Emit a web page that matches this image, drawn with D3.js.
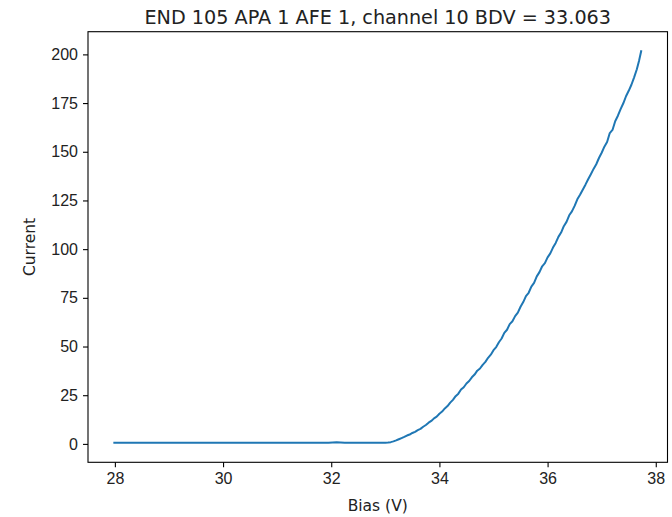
<!DOCTYPE html>
<html>
<head>
<meta charset="utf-8">
<script src="https://cdn.jsdelivr.net/npm/d3@7"></script>
<style>
  body { margin: 0; background: #fff; }
  svg { font-family: "DejaVu Sans", sans-serif; }
</style>
</head>
<body>
<div id="chart"></div>
<script>
let biasV = [
    27.99, 28.15, 28.35, 28.55, 28.75, 28.95, 29.15, 29.35, 29.55, 29.75,
    29.95, 30.15, 30.35, 30.55, 30.75, 30.95, 31.15, 31.35, 31.55, 31.75,
    31.95, 32.10, 32.25, 32.45, 32.65, 32.85,
    33.00, 33.05, 33.10, 33.15, 33.20, 33.25, 33.30, 33.35, 33.40, 33.45,
    33.50, 33.55, 33.60, 33.65, 33.70, 33.75, 33.80, 33.85, 33.90, 33.95,
    34.00, 34.05, 34.10, 34.15, 34.20, 34.25, 34.30, 34.35, 34.40, 34.45,
    34.50, 34.55, 34.60, 34.65, 34.70, 34.75, 34.80, 34.85, 34.90, 34.95,
    35.00, 35.05, 35.10, 35.15, 35.20, 35.25, 35.30, 35.35, 35.40, 35.45,
    35.50, 35.55, 35.60, 35.65, 35.70, 35.75, 35.80, 35.85, 35.90, 35.95,
    36.00, 36.05, 36.10, 36.15, 36.20, 36.25, 36.30, 36.35, 36.40, 36.45,
    36.50, 36.55, 36.60, 36.65, 36.70, 36.75, 36.80, 36.85, 36.90, 36.95,
    37.00, 37.05, 37.10, 37.15, 37.20, 37.25, 37.30, 37.35, 37.40, 37.45,
    37.50, 37.55, 37.60, 37.65, 37.69, 37.73
];
let current = [
    0.6, 0.6, 0.6, 0.6, 0.6, 0.6, 0.6, 0.6, 0.6, 0.6,
    0.6, 0.6, 0.6, 0.6, 0.6, 0.6, 0.6, 0.6, 0.6, 0.6,
    0.6, 0.8, 0.6, 0.6, 0.6, 0.6,
    0.6, 0.7, 0.9, 1.3, 1.8, 2.4, 3.0, 3.6, 4.3, 4.8,
    5.6, 6.2, 7.1, 7.7, 8.8, 9.7, 10.9, 11.8, 13.1, 14.0,
    15.5, 16.6, 18.2, 19.4, 21.2, 22.6, 24.5, 25.8, 27.9, 29.1,
    31.0, 32.3, 34.2, 35.6, 37.6, 38.7, 40.6, 42.1, 44.2, 45.8,
    48.1, 49.7, 52.2, 54.1, 57.0, 58.6, 61.5, 63.0, 65.6, 67.4,
    70.4, 72.8, 75.9, 77.6, 80.8, 82.7, 86.0, 88.2, 91.2, 92.8,
    95.8, 97.8, 100.8, 103.2, 106.3, 108.5, 111.8, 114.0, 117.4, 119.4,
    122.2, 125.6, 127.9, 130.5, 133.1, 135.9, 138.5, 141.2, 143.6, 146.8,
    149.5, 152.6, 155.0, 159.6, 161.2, 165.7, 168.5, 171.9, 174.9, 178.5,
    181.3, 184.4, 188.2, 192.4, 196.6, 201.6
];
let xTicks = [28, 30, 32, 34, 36, 38];
let yTicks = [0, 25, 50, 75, 100, 125, 150, 175, 200];
let titleText = "END 105 APA 1 AFE 1, channel 10 BDV = 33.063";

function showChart() {
    let width = 672;
    let height = 517;
    let margin = {left: 88, right: 4.5, top: 31.7, bottom: 54.7};

    let svg = d3.select("#chart")
        .append("svg")
        .attr("width", width)
        .attr("height", height);

    // matplotlib style 5% padding around the data
    let xExt = d3.extent(biasV);
    let yExt = d3.extent(current);
    let xPad = (xExt[1] - xExt[0]) * 0.05;
    let yPad = (yExt[1] - yExt[0]) * 0.05;

    let x = d3.scaleLinear()
        .domain([xExt[0] - xPad, xExt[1] + xPad])
        .range([margin.left, width - margin.right]);
    let y = d3.scaleLinear()
        .domain([yExt[0] - yPad, yExt[1] + yPad])
        .range([height - margin.bottom, margin.top]);

    let xAxis = svg.append("g")
        .attr("transform", `translate(0, ${height - margin.bottom})`)
        .call(d3.axisBottom(x).tickValues(xTicks).tickFormat(d3.format("d")).tickSize(5).tickPadding(5));
    let yAxis = svg.append("g")
        .attr("transform", `translate(${margin.left}, 0)`)
        .call(d3.axisLeft(y).tickValues(yTicks).tickFormat(d3.format("d")).tickSize(5).tickPadding(5));

    [xAxis, yAxis].forEach(function(a) {
        a.select(".domain").remove();
        a.selectAll(".tick line").attr("stroke", "#000").attr("stroke-width", 1.1);
        a.selectAll(".tick text")
            .attr("fill", "#222")
            .style("font-size", "16px");
    });

    // the line
    let line = d3.line()
        .x(function(d, i) { return x(biasV[i]); })
        .y(function(d) { return y(d); });

    svg.append("path")
        .datum(current)
        .attr("d", line)
        .attr("fill", "none")
        .attr("stroke", "#1f77b4")
        .attr("stroke-width", 2)
        .attr("stroke-linejoin", "round")
        .attr("stroke-linecap", "square");

    // axes frame
    svg.append("rect")
        .attr("x", margin.left)
        .attr("y", margin.top)
        .attr("width", width - margin.left - margin.right)
        .attr("height", height - margin.top - margin.bottom)
        .attr("fill", "none")
        .attr("stroke", "#000")
        .attr("stroke-width", 1.1);

    svg.append("text")
        .attr("x", (margin.left + width - margin.right) / 2)
        .attr("y", 24)
        .attr("text-anchor", "middle")
        .style("font-size", "19.2px")
        .attr("fill", "#222")
        .text(titleText);

    svg.append("text")
        .attr("x", (margin.left + width - margin.right) / 2)
        .attr("y", 511)
        .attr("text-anchor", "middle")
        .style("font-size", "15.5px")
        .attr("fill", "#222")
        .text("Bias (V)");

    svg.append("text")
        .attr("transform", `translate(35, ${(margin.top + height - margin.bottom) / 2}) rotate(-90)`)
        .attr("text-anchor", "middle")
        .style("font-size", "15.5px")
        .attr("fill", "#222")
        .text("Current");
}

showChart();
</script>
</body>
</html>
